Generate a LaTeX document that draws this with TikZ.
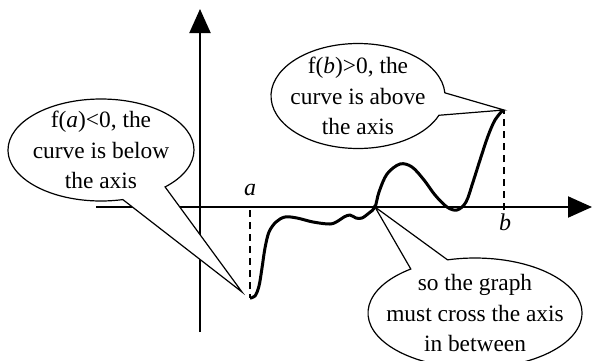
\documentclass[tikz,border=0pt]{standalone}
\usepackage{fontspec}
\setmainfont{Liberation Serif}
\usetikzlibrary{arrows.meta,shapes.callouts}

\begin{document}
\begin{tikzpicture}[x=0.5pt,y=-0.5pt,
  bubble/.style={ellipse callout, draw, line width=0.6pt, fill=white, inner xsep=-8pt, inner ysep=-4pt, align=center, font=\fontsize{11.7}{15.3}\selectfont},
  axis/.style={line width=1pt, -{Triangle[width=10.5pt,length=12pt]}},
  guide/.style={line width=1.1pt, dash pattern=on 3.5pt off 2.5pt},
  mark label/.style={font=\fontsize{12}{14}\selectfont\itshape}]
\useasboundingbox (0,0) rectangle (593,360);

\draw[axis] (96,207) -- (592,207);
\draw[axis] (200,332) -- (200,9);

\coordinate (a) at (250,210);
\coordinate (fa) at (250,298);
\coordinate (b) at (504,210);
\coordinate (fb) at (504,110);
\coordinate (cross) at (375,207);
\coordinate (atip) at (242,292);

\node[mark label] (alabel) at (250,190) {a};
\node[mark label] (blabel) at (505,222) {b};

\draw[guide] (a) -- (fa);
\draw[guide] (b) -- (fb);

\draw[line width=1.5pt, line join=round] plot[smooth, tension=0.55] coordinates {(250,298) (255,296) (259,286) (262,268) (265,248) (269,232) (276,222) (285,217) (297,218) (313,222) (330,224) (338,221) (344,217) (350,215) (356,218) (362,218) (369,213) (375,207) (379,192) (387,174) (400,164) (412,167) (424,180) (435,195) (447,207) (457,210) (466,202) (473,182) (480,160) (488,136) (495,120) (503,110)};

\node[bubble, minimum width=93pt, minimum height=51pt, callout pointer arc=30, callout absolute pointer={(atip)}] (belowbubble) at (101,150) {f(\textit{a})<0, the\\curve is below\\the axis};
\node[bubble, minimum width=87pt, minimum height=52.5pt, callout pointer arc=25, callout absolute pointer={(fb)}] (abovebubble) at (358,96) {f(\textit{b})>0, the\\curve is above\\the axis};
\node[bubble, minimum width=107pt, minimum height=55pt, callout pointer arc=22, callout absolute pointer={(cross)}] (crossbubble) at (475,313) {so the graph\\must cross the axis\\in between};
\end{tikzpicture}
\end{document}
